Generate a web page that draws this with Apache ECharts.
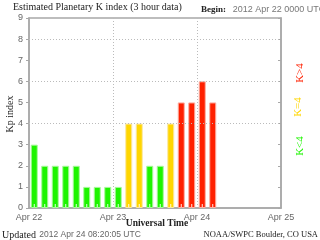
<!DOCTYPE html>
<html><head><meta charset="utf-8">
<script src="https://cdn.jsdelivr.net/npm/echarts@6/dist/echarts.min.js"></script>
<style>html,body{margin:0;padding:0;background:#fff}#c{width:320px;height:240px}</style>
</head><body><div id="c"></div>
<script>
var dayLabels = ['Apr 22', 'Apr 23', 'Apr 24', 'Apr 25'];
var kpValues = [3, 2, 2, 2, 2, 1, 1, 1, 1, 4, 4, 2, 2, 4, 5, 5, 6, 5];
var yTicks = [0, 1, 2, 3, 4, 5, 6, 7, 8, 9];
var gridLevels = [4, 6, 8];

var GREEN = '#1ef400', YELLOW = '#ffd600', RED = '#ff2000';
function colorFor(v) { return v < 4 ? GREEN : (v === 4 ? YELLOW : RED); }
function edgeFor(v) { return v < 4 ? '#a8f79a' : (v === 4 ? '#fbe7a0' : '#fdaea0'); }

var barData = kpValues.map(function (v, i) {
  return { value: [1.5 + 3 * i, v], itemStyle: { color: colorFor(v), borderColor: edgeFor(v), borderWidth: 1 } };
});
var tickData = kpValues.map(function (v, i) { return [1.5 + 3 * i, 0]; });

var serif = 'Liberation Serif';
var sans = 'Liberation Sans';
var chart = echarts.init(document.getElementById('c'), null, { renderer: 'canvas' });
chart.setOption({
  animation: false,
  backgroundColor: '#fff',
  grid: { left: 29, right: 39, top: 18, bottom: 32, outerBoundsMode: 'none', containLabel: false, show: true, borderColor: '#a8a8a8', borderWidth: 1.5, backgroundColor: 'transparent' },
  xAxis: {
    type: 'value', min: 0, max: 72, interval: 24,
    axisLine: { show: true, lineStyle: { color: '#a8a8a8', width: 1.5 } },
    axisTick: { show: false },
    axisLabel: { color: '#666', fontFamily: sans, fontSize: 9, margin: 5, formatter: function (v) { return dayLabels[Math.round(v / 24)]; } },
    splitLine: { show: true, lineStyle: { color: '#bbb', type: [1, 2], width: 1 } }
  },
  yAxis: [{
    type: 'value', min: 0, max: 9, interval: 1,
    axisLine: { show: true, lineStyle: { color: '#a8a8a8', width: 1.5 } },
    axisTick: { show: true, length: 3, lineStyle: { color: '#a8a8a8' } },
    axisLabel: { color: '#666', fontFamily: sans, fontSize: 9, margin: 6, formatter: function (v) { return yTicks.indexOf(v) >= 0 ? String(v) : ''; } },
    splitLine: { show: false }
  }, {
    type: 'value', min: 0, max: 9, interval: 1, position: 'right',
    axisLine: { show: true, lineStyle: { color: '#a8a8a8', width: 1.5 } },
    axisTick: { show: true, inside: true, length: 3, lineStyle: { color: '#a8a8a8' } },
    axisLabel: { show: false },
    splitLine: { show: false }
  }],
  series: [{
    type: 'bar', data: barData, barWidth: 7, z: 2,
    markLine: {
      silent: true, symbol: 'none', label: { show: false },
      lineStyle: { color: '#bbb', type: [1, 2], width: 1 },
      data: gridLevels.map(function (g) { return { yAxis: g }; })
    }
  }, {
    type: 'scatter', data: tickData, symbol: 'rect', symbolSize: [1, 3], symbolOffset: [0, -2.5],
    itemStyle: { color: '#ffffff', opacity: 0.9 }, z: 4, silent: true
  }],
  graphic: [
    { type: 'text', left: 13, top: 2, style: { text: 'Estimated Planetary K index (3 hour data)', font: '10px "' + serif + '"', fill: '#222' } },
    { type: 'text', left: 201, top: 4, style: {
      text: '{b|Begin:}  {s|2012 Apr 22 0000 UTC}',
      rich: { b: { fontFamily: serif, fontWeight: 'bold', fontSize: 9, fill: '#222' }, s: { fontFamily: sans, fontSize: 9, fill: '#777' } } } },
    { type: 'text', x: 10, y: 114, rotation: Math.PI / 2, style: { text: 'Kp index', font: '10px "' + serif + '"', fill: '#222', align: 'center', verticalAlign: 'middle' } },
    { type: 'text', x: 157, y: 224, style: { text: 'Universal Time', font: 'bold 9.5px "' + serif + '"', fill: '#222', align: 'center', verticalAlign: 'middle' } },
    { type: 'text', left: 2, top: 229, style: {
      text: '{b|Updated} {s|2012 Apr 24 08:20:05 UTC}',
      rich: { b: { fontFamily: serif, fontSize: 10, fill: '#222' }, s: { fontFamily: sans, fontSize: 8.5, fill: '#666' } } } },
    { type: 'text', right: 2, top: 230, style: { text: 'NOAA/SWPC Boulder, CO USA', font: '8.5px "' + serif + '"', fill: '#222' } },
    { type: 'text', x: 300, y: 73, rotation: Math.PI / 2, style: { text: 'K>4', font: '11px "' + serif + '"', fill: RED, align: 'center', verticalAlign: 'middle' } },
    { type: 'text', x: 298, y: 107, rotation: Math.PI / 2, style: { text: 'K=4', font: '11px "' + serif + '"', fill: YELLOW, align: 'center', verticalAlign: 'middle' } },
    { type: 'text', x: 300, y: 146, rotation: Math.PI / 2, style: { text: 'K<4', font: '11px "' + serif + '"', fill: GREEN, align: 'center', verticalAlign: 'middle' } }
  ]
});
</script></body></html>
